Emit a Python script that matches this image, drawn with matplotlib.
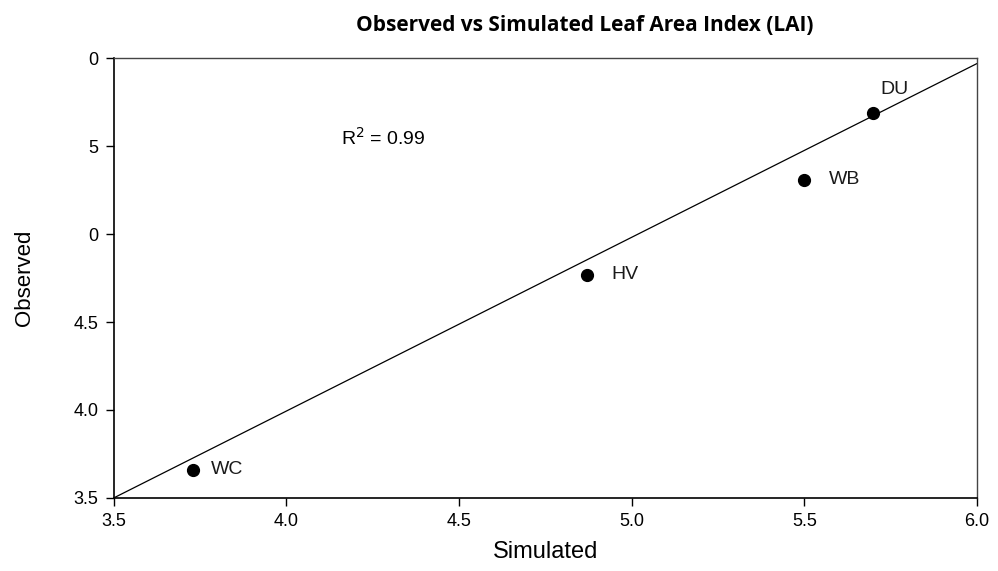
import matplotlib
matplotlib.use("Agg")
import matplotlib.pyplot as plt

names = ["DU", "WB", "HV", "WC"]
simulated = [5.70, 5.50, 4.87, 3.73]
observed = [5.69, 5.31, 4.77, 3.66]
fit_x = [3.5, 6.0]
fit_y = [3.5, 5.97]
xticks = [3.5, 4.0, 4.5, 5.0, 5.5, 6.0]
xtick_labels = ["3.5", "4.0", "4.5", "5.0", "5.5", "6.0"]
yticks = [3.5, 4.0, 4.5, 5.0, 5.5, 6.0]
ytick_labels = ["3.5", "4.0", "4.5", "0", "5", "0"]

plt.rcParams['font.family'] = ['Liberation Sans', 'DejaVu Sans']

fig = plt.figure(figsize=(9.98, 5.71), dpi=100)
ax = fig.add_axes([0.114, 0.128, 0.865, 0.770])

ax.plot(fit_x, fit_y, color="black", lw=0.9)
ax.plot(simulated, observed, "o", color="black", markersize=8.5, linestyle="none")

offsets = {"DU": (0.02, 0.13), "WB": (0.07, 0.0), "HV": (0.07, 0.0), "WC": (0.05, 0.0)}
for n, x, y in zip(names, simulated, observed):
    dx, dy = offsets[n]
    ax.text(x + dx, y + dy, n, fontsize=14, va="center", ha="left", color="#1a1a1a")

ax.text(4.28, 5.55, "R$^2$ = 0.99", fontsize=14, ha="center", va="center")

ax.set_xlim(3.5, 6.0)
ax.set_ylim(3.5, 6.0)
ax.set_xticks(xticks)
ax.set_xticklabels(xtick_labels, fontsize=13)
ax.set_yticks(yticks)
ax.set_yticklabels(ytick_labels, fontsize=13)
ax.tick_params(direction="out", length=6, width=1, pad=5)
for s in ["left", "bottom"]:
    ax.spines[s].set_linewidth(1.2)
for s in ["top", "right"]:
    ax.spines[s].set_linewidth(1.0)
    ax.spines[s].set_color("#444444")

ax.set_xlabel("Simulated", fontsize=17, labelpad=8)
ax.set_ylabel("Observed", fontsize=16, labelpad=28)
fig.text(0.586, 0.956, "Observed vs Simulated Leaf Area Index (LAI)", ha="center", va="center",
         fontsize=15, fontweight="bold", family=["Open Sans", "DejaVu Sans"])

fig.savefig("out.png", dpi=100)
